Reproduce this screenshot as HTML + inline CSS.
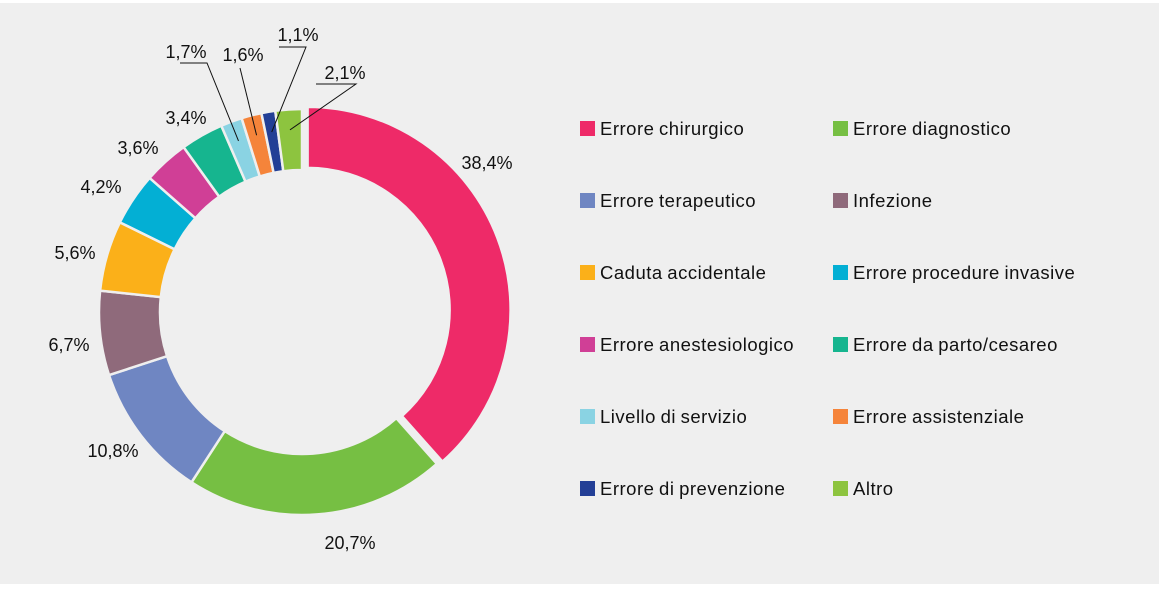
<!DOCTYPE html>
<html><head><meta charset="utf-8"><style>
body{margin:0;background:#fff;font-family:"Liberation Sans",sans-serif}
svg text{font-family:"Liberation Sans",sans-serif;fill:#111}
.vl{font-size:18px}
.lt{font-size:18.5px;letter-spacing:0.5px;word-spacing:-1px}
</style></head><body>
<svg width="1159" height="584">
<rect x="0" y="3" width="1159" height="581" fill="#efefef"/>
<g id="slices"></g><g id="labels"></g><g id="legend"></g>
</svg>
<script>
const categories=["Errore chirurgico","Errore diagnostico","Errore terapeutico","Infezione","Caduta accidentale","Errore procedure invasive","Errore anestesiologico","Errore da parto/cesareo","Livello di servizio","Errore assistenziale","Errore di prevenzione","Altro"];
const values=[38.4,20.7,10.8,6.7,5.6,4.2,3.6,3.4,1.7,1.6,1.1,2.1];
const valueLabels=["38,4%","20,7%","10,8%","6,7%","5,6%","4,2%","3,6%","3,4%","1,7%","1,6%","1,1%","2,1%"];
const colors=["#ee2a68","#76bf43","#6f86c2","#8f6a7b","#fbb019","#03afd4","#d03f96","#16b58f","#8ad3e3","#f5843a","#233f96","#8dc43f"];
const NS="http://www.w3.org/2000/svg";
const cx=302,cy=312,R=203,r=142;
const total=values.reduce((a,b)=>a+b,0);
function pt(a,rad,ox,oy){return [cx+ox+rad*Math.sin(a),cy+oy-rad*Math.cos(a)];}
const sg=document.getElementById('slices'),lg=document.getElementById('labels'),leg=document.getElementById('legend');
// text label layout (positions only)
const labelXY=[[487,169],[350,549],[113,457],[69,351],[75,259],[101,193],[138,154],[186,124],[186,58],[243,61],[298,41],[345,79]];
const leaders={8:[[180,63],[207,63]],9:[[240,68],[240,68]],10:[[279,47],[306,47]],11:[[316,84],[356,84]]};
let acc=0;
values.forEach((v,i)=>{
 const a0=acc/total*2*Math.PI,a1=(acc+v)/total*2*Math.PI;acc+=v;
 const mid=(a0+a1)/2;const ex=i===0?6:0;
 const ox=ex*Math.sin(mid),oy=-ex*Math.cos(mid);
 const large=(a1-a0)>Math.PI?1:0;
 const p1=pt(a0,R,ox,oy),p2=pt(a1,R,ox,oy),p3=pt(a1,r,ox,oy),p4=pt(a0,r,ox,oy);
 const p=document.createElementNS(NS,'path');
 p.setAttribute('d',`M${p1}A${R},${R} 0 ${large} 1 ${p2}L${p3}A${r},${r} 0 ${large} 0 ${p4}Z`);
 p.setAttribute('fill',colors[i]);p.setAttribute('stroke','#efefef');p.setAttribute('stroke-width','2.5');
 
 
 sg.appendChild(p);
 if(leaders[i]){
  const inner=pt(mid,(R+r)/2+10,0,0);
  const l=leaders[i];
  const pl=document.createElementNS(NS,'polyline');
  pl.setAttribute('points',`${l[0]} ${l[1]} ${inner}`);
  pl.setAttribute('fill','none');pl.setAttribute('stroke','#111');pl.setAttribute('stroke-width','1');
  
  
  lg.appendChild(pl);
 }
 const t=document.createElementNS(NS,'text');
 t.setAttribute('x',labelXY[i][0]);t.setAttribute('y',labelXY[i][1]);t.setAttribute('text-anchor','middle');
 t.setAttribute('class','vl');
 t.textContent=valueLabels[i];
 
 
 lg.appendChild(t);
});
categories.forEach((c,i)=>{
 const col=i%2,row=Math.floor(i/2);
 const x=col?833:580,y=129+row*72;
 const g=document.createElementNS(NS,'g');
 
 
 const s=document.createElementNS(NS,'rect');
 s.setAttribute('x',x);s.setAttribute('y',y-8);s.setAttribute('width',15);s.setAttribute('height',15);s.setAttribute('fill',colors[i]);
 const t=document.createElementNS(NS,'text');
 t.setAttribute('x',x+20);t.setAttribute('y',y+6);t.setAttribute('class','lt');t.textContent=c;
 g.appendChild(s);g.appendChild(t);leg.appendChild(g);
});
</script>
</body></html>
